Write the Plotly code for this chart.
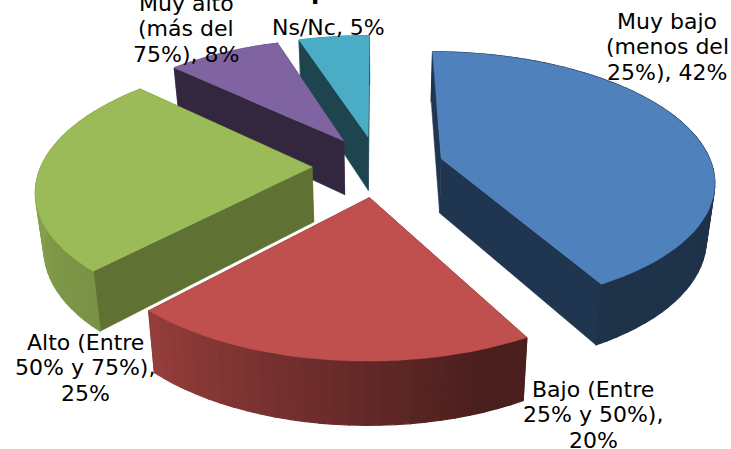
import numpy as np
import plotly.graph_objects as go

# Data
categories = ["Muy bajo (menos del 25%)", "Bajo (Entre 25% y 50%)", "Alto (Entre 50% y 75%)",
              "Muy alto (más del 75%)", "Ns/Nc"]
values = [42, 20, 25, 8, 5]
label_lines = [["Muy bajo", "(menos del", "25%), 42%"], ["Bajo (Entre", "25% y 50%),", "20%"],
               ["Alto (Entre", "50% y 75%),", "25%"], ["Muy alto", "(más del", "75%), 8%"], ["Ns/Nc, 5%"]]
top_colors = ["#4F81BD", "#C0504D", "#9BBB59", "#8064A2", "#4BACC6"]
face_colors = ["#1F3550", "#4B1F1D", "#5F7233", "#33273F", "#1E4450"]
label_x = [667, 593, 85, 186, 328]
label_y0 = [21, 389, 342, 3, 27]
LINE_PITCH = 25.8
title_fragment = "p"  # the only visible remnant of the title, cut by the top edge
title_x, title_y_paper = 319, 1.02

# 3D pie projection
CX, CY, R, A, P, EXPLODE, DEPTH, BOTTOM_F = 378, 166, 271, 126, 0.16, 0.243, 55, 0.975


def project(X, Y, z=0):
    w = 1 + P * Y
    x = R * X / w
    y = -A * Y / w + z * DEPTH / w ** 0.7
    if z:
        x = x * BOTTOM_F
    return CX + x, CY + y


def shade(hex_color, theta):
    f = np.interp(theta, [0, 160, 223, 270, 360], [0.39, 0.39, 0.78, 0.88, 0.88])
    rgb = [int(hex_color[i:i + 2], 16) for i in (1, 3, 5)]
    return "rgb({},{},{})".format(*[int(c * f) for c in rgb])


fig = go.Figure()


def poly(xs, ys, color, lw=1.2):
    xs = list(xs) + [xs[0]]
    ys = list(ys) + [ys[0]]
    fig.add_trace(go.Scatter(x=xs, y=ys, mode="lines", fill="toself", fillcolor=color,
                             line=dict(color=color, width=lw), hoverinfo="skip", showlegend=False))


# slices painted from back to front
total = sum(values)
angles = np.cumsum([0] + values) / total * 360
order = [4, 3, 2, 1, 0]
for i in order:
    a0, a1 = angles[i], angles[i + 1]
    mid = np.radians((a0 + a1) / 2)
    ox, oy = EXPLODE * np.sin(mid), EXPLODE * np.cos(mid)
    th = np.linspace(a0, a1, max(8, int((a1 - a0) / 2.5)))
    rx = ox + np.sin(np.radians(th))
    ry = oy + np.cos(np.radians(th))

    def arc(front):
        for j in range(len(th) - 1):
            tm = (th[j] + th[j + 1]) / 2
            if (np.cos(np.radians(tm)) < 0) != front:
                continue
            t0, t1 = project(rx[j], ry[j]), project(rx[j + 1], ry[j + 1])
            b1, b0 = project(rx[j + 1], ry[j + 1], 1), project(rx[j], ry[j], 1)
            poly([t0[0], t1[0], b1[0], b0[0]], [t0[1], t1[1], b1[1], b0[1]], shade(top_colors[i], tm))

    # hidden part of the curved side
    arc(False)

    # flat cut faces, the one further back first
    ends = sorted([0, -1], key=lambda k: project(rx[k], ry[k])[1])
    for k in ends:
        t0, t1 = project(ox, oy), project(rx[k], ry[k])
        b1, b0 = project(rx[k], ry[k], 1), project(ox, oy, 1)
        poly([t0[0], t1[0], b1[0], b0[0]], [t0[1], t1[1], b1[1], b0[1]], face_colors[i], 0.5)

    # visible part of the curved side
    arc(True)

    # top
    tx, ty = project(rx, ry)
    ax, ay = project(ox, oy)
    poly([ax] + list(tx), [ay] + list(ty), top_colors[i], 0.5)

annotations = []
for x, y0, lines in zip(label_x, label_y0, label_lines):
    for n, line in enumerate(lines):
        annotations.append(dict(x=x, y=y0 + n * LINE_PITCH, text=line, showarrow=False,
                                xanchor="center", yanchor="middle", align="center",
                                font=dict(family="DejaVu Sans", size=22, color="#000000")))
annotations.append(dict(x=title_x, y=title_y_paper, yref="paper", text="<b>" + title_fragment + "</b>",
                        showarrow=False, xanchor="center", yanchor="middle",
                        font=dict(family="DejaVu Sans", size=24, color="#000000")))

fig.update_layout(
    width=731, height=449, margin=dict(l=0, r=0, t=0, b=0),
    paper_bgcolor="#FFFFFF", plot_bgcolor="#FFFFFF", showlegend=False,
    xaxis=dict(range=[0, 731], visible=False, fixedrange=True),
    yaxis=dict(range=[449, 0], visible=False, fixedrange=True),
    annotations=annotations,
)
fig.write_html("out.html", config=dict(displayModeBar=False),
               post_script="document.body.style.margin='0';document.documentElement.style.overflow='hidden';")
